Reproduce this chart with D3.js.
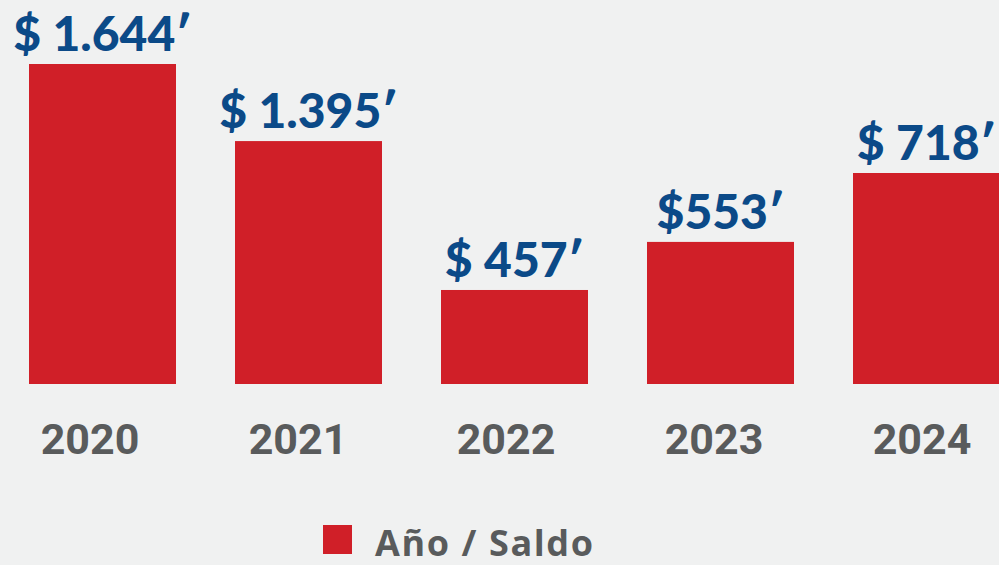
<!DOCTYPE html>
<html>
<head>
<meta charset="utf-8">
<script src="https://cdn.jsdelivr.net/npm/d3@7"></script>
<style>
  html, body { margin: 0; padding: 0; background: #f0f1f1; overflow: hidden; }
  svg { display: block; }
</style>
</head>
<body>
<svg id="chart" width="999" height="565"></svg>
<script>
// ---- data ----
const years = ["2020", "2021", "2022", "2023", "2024"];
// printed balances (millions of pesos)
const saldo = [1644, 1395, 457, 553, 718];
const saldoLabels = ["$ 1.644\u2032", "$ 1.395\u2032", "$ 457\u2032", "$553\u2032", "$ 718\u2032"];
// bar levels as drawn in the reference (bars are not proportional to the printed figures)
const barValues = [1644, 1248, 483, 730, 1084];
const legendLabel = "Año / Saldo";

// ---- layout ----
const W = 999, H = 565;
const baseY = 384, topY = 64;
const svg = d3.select("#chart");
svg.append("rect").attr("width", W).attr("height", H).attr("fill", "#f0f1f1");

const x = d3.scaleBand().domain(years).range([29, 1000]).paddingInner(0.2864).paddingOuter(0);
const y = d3.scaleLinear().domain([0, 1644]).range([baseY, topY]);
const xYear = d3.scalePoint().domain(years).range([90, 922]);

const data = years.map((yr, i) => ({ yr, v: barValues[i], s: saldo[i], label: saldoLabels[i] }));

svg.append("g").selectAll("rect").data(data).join("rect")
  .attr("x", d => x(d.yr))
  .attr("y", d => y(d.v))
  .attr("width", x.bandwidth())
  .attr("height", d => y(0) - y(d.v))
  .attr("fill", "#d01f28");

svg.append("g").selectAll("text").data(data).join("text")
  .attr("x", d => x(d.yr) + x.bandwidth() / 2)
  .attr("y", d => y(d.v) - 13)
  .attr("text-anchor", "middle")
  .attr("font-family", "Lato, 'Open Sans', sans-serif")
  .attr("font-weight", 900)
  .attr("font-size", 48)
  .attr("fill", "#0b4a88")
  .text(d => d.label);

svg.append("g").selectAll("text").data(data).join("text")
  .attr("x", d => xYear(d.yr))
  .attr("y", 454)
  .attr("text-anchor", "middle")
  .attr("font-family", "Roboto, sans-serif")
  .attr("font-weight", 700)
  .attr("font-size", 43)
  .attr("fill", "#595b5c")
  .text(d => d.yr);

// legend
const lg = svg.append("g");
lg.append("rect").attr("x", 323).attr("y", 525).attr("width", 29).attr("height", 29).attr("fill", "#d01f28");
lg.append("text").attr("x", 375).attr("y", 556)
  .attr("font-family", "'Open Sans', sans-serif")
  .attr("font-weight", 700)
  .attr("font-size", 36)
  .attr("letter-spacing", 1.6)
  .attr("fill", "#595b5c")
  .text(legendLabel);
</script>
</body>
</html>
